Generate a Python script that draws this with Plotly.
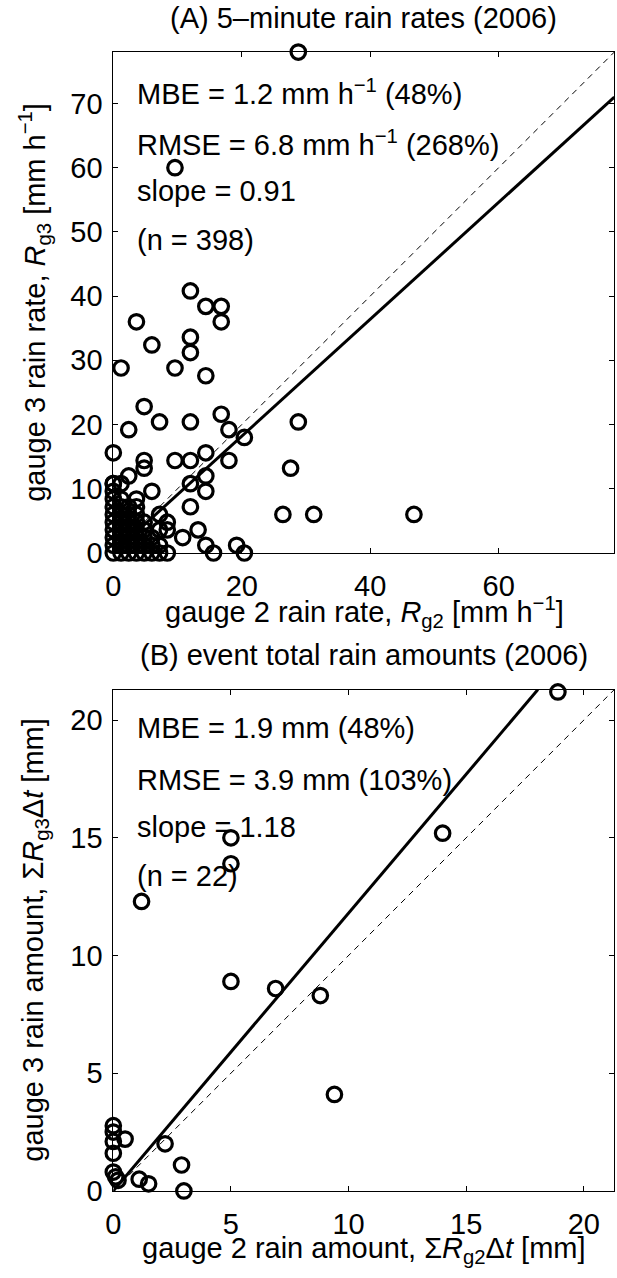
import plotly.graph_objects as go

# ---------------- data ----------------
# Panel A: 5-minute rain rates (mm/h), gauge 2 (x) vs gauge 3 (y)
a_x = [28.8, 9.6, 12.0, 14.4, 16.8, 16.8, 3.6, 12.0, 6.0, 12.0, 1.2, 9.6, 14.4,
       4.8, 2.4, 7.2, 12.0, 16.8, 18.0, 20.4, 28.8, 27.6, 26.4, 31.2, 46.8,
       0.0, 4.8, 4.8, 9.6, 12.0, 14.4, 18.0, 2.4, 14.4, 12.0, 14.4, 6.0,
       1.2, 3.6, 3.6, 12.0, 7.2, 8.4, 7.2, 8.4, 10.8, 13.2, 14.4, 15.6,
       19.2, 20.4,
       0.0, 1.2, 2.4, 3.6, 4.8, 6.0, 7.2, 8.4,
       0.0, 1.2, 2.4, 3.6, 4.8, 6.0, 7.2,
       0.0, 1.2, 2.4, 3.6, 4.8, 6.0,
       0.0, 1.2, 2.4, 3.6, 4.8,
       0.0, 1.2, 2.4, 3.6, 4.8,
       0.0, 1.2, 2.4, 3.6,
       0.0, 1.2, 2.4,
       0.0, 1.2,
       0.0, 0.0, 0.0]
a_y = [78.0, 60.0, 40.8, 38.4, 38.4, 36.0, 36.0, 33.6, 32.4, 31.2, 28.8, 28.8, 27.6,
       22.8, 19.2, 20.4, 20.4, 21.6, 19.2, 18.0, 20.4, 13.2, 6.0, 6.0, 6.0,
       15.6, 14.4, 13.2, 14.4, 14.4, 15.6, 14.4, 12.0, 12.0, 10.8, 9.6, 9.6,
       10.8, 8.4, 7.2, 7.2, 6.0, 4.8, 3.6, 3.6, 2.4, 3.6, 1.2, 0.0,
       1.2, 0.0,
       0.0, 0.0, 0.0, 0.0, 0.0, 0.0, 0.0, 0.0,
       1.2, 1.2, 1.2, 1.2, 1.2, 1.2, 1.2,
       2.4, 2.4, 2.4, 2.4, 2.4, 2.4,
       3.6, 3.6, 3.6, 3.6, 3.6,
       4.8, 4.8, 4.8, 4.8, 4.8,
       6.0, 6.0, 6.0, 6.0,
       7.2, 7.2, 7.2,
       8.4, 8.4,
       9.6, 10.8, 10.8]

# Panel B: event total rain amounts (mm)
b_x = [18.9, 14.0, 5.0, 5.0, 1.2, 5.0, 6.9, 8.8, 9.4, 2.2, 2.9, 3.0, 1.1, 1.5,
       0.5, 0.0, 0.0, 0.0, 0.0, 0.0, 0.1, 0.2]
b_y = [21.2, 15.2, 15.0, 13.9, 12.3, 8.9, 8.6, 8.3, 4.1, 2.0, 1.1, 0.0, 0.5, 0.3,
       2.2, 2.77, 2.5, 2.1, 1.6, 0.8, 0.6, 0.45]

a_range = [0, 78]
b_range = [0, 21.3]
a_slope = 0.91
b_slope = 1.18
a_ticks = [0, 20, 40, 60]
a_yticks = [0, 10, 20, 30, 40, 50, 60, 70]
b_ticks = [0, 5, 10, 15, 20]

a_title = "(A) 5–minute rain rates (2006)"
b_title = "(B) event total rain amounts (2006)"
a_xlabel = "gauge 2 rain rate, <i>R</i><sub>g2</sub> [mm h<sup>−1</sup>]"
a_ylabel = "gauge 3 rain rate, <i>R</i><sub>g3</sub> [mm h<sup>−1</sup>]"
b_xlabel = "gauge 2 rain amount, Σ<i>R</i><sub>g2</sub>Δ<i>t</i> [mm]"
b_ylabel = "gauge 3 rain amount, Σ<i>R</i><sub>g3</sub>Δ<i>t</i> [mm]"
a_stats = ["MBE = 1.2 mm h<sup>−1</sup> (48%)",
           "RMSE = 6.8 mm h<sup>−1</sup> (268%)",
           "slope = 0.91",
           "(n = 398)"]
b_stats = ["MBE = 1.9 mm (48%)",
           "RMSE = 3.9 mm (103%)",
           "slope = 1.18",
           "(n = 22)"]

# ---------------- layout helpers ----------------
W, H = 617, 1278
L, R = 106.7, 614.3
A_TOP, A_BOT = 52.7, 560.0
B_TOP, B_BOT = 698.3, 1206.0


def px(p):
    return p / W


def py(p):
    return 1 - p / H


FONT = dict(family="Liberation Sans, Arial, Helvetica, sans-serif", size=29, color="black")

marker = dict(symbol="circle-open", size=14.5, color="black", line=dict(width=3.2, color="black"))

fig = go.Figure()

# Panel A
fig.add_trace(go.Scatter(x=a_x, y=a_y, mode="markers", marker=marker, cliponaxis=False,
                         xaxis="x", yaxis="y", showlegend=False, hoverinfo="skip"))
fig.add_trace(go.Scatter(x=a_range, y=a_range, mode="lines",
                         line=dict(color="black", width=1, dash="6px,5px"),
                         xaxis="x", yaxis="y", showlegend=False, hoverinfo="skip"))
fig.add_trace(go.Scatter(x=a_range, y=[a_slope * v for v in a_range], mode="lines",
                         line=dict(color="black", width=3),
                         xaxis="x", yaxis="y", showlegend=False, hoverinfo="skip"))

# Panel B
fig.add_trace(go.Scatter(x=b_x, y=b_y, mode="markers", marker=marker, cliponaxis=False,
                         xaxis="x2", yaxis="y2", showlegend=False, hoverinfo="skip"))
fig.add_trace(go.Scatter(x=b_range, y=b_range, mode="lines",
                         line=dict(color="black", width=1, dash="6px,5px"),
                         xaxis="x2", yaxis="y2", showlegend=False, hoverinfo="skip"))
fig.add_trace(go.Scatter(x=[0, b_range[1] / b_slope], y=[0, b_range[1]], mode="lines",
                         line=dict(color="black", width=3),
                         xaxis="x2", yaxis="y2", showlegend=False, hoverinfo="skip"))

axis_common = dict(showline=True, linecolor="black", linewidth=1, mirror="ticks",
                   ticks="inside", ticklen=5, tickwidth=1, tickcolor="black",
                   showgrid=False, zeroline=False, tickfont=FONT, fixedrange=True)

fig.update_layout(
    width=W, height=H, autosize=False,
    margin=dict(l=0, r=0, t=0, b=0),
    paper_bgcolor="white", plot_bgcolor="white",
    font=FONT,
    xaxis=dict(axis_common, domain=[px(L), px(R)], range=a_range, tickvals=a_ticks,
               anchor="y", ticklabelstandoff=7),
    yaxis=dict(axis_common, domain=[py(A_BOT), py(A_TOP)], range=a_range, tickvals=a_yticks,
               anchor="x", ticklabelstandoff=4),
    xaxis2=dict(axis_common, domain=[px(L), px(R)], range=b_range, tickvals=b_ticks,
                anchor="y2", ticklabelstandoff=7),
    yaxis2=dict(axis_common, domain=[py(B_BOT), py(B_TOP)], range=b_range, tickvals=b_ticks,
                anchor="x2", ticklabelstandoff=4),
)

ann = []


def add_text(text, x, y, xanchor="center", angle=0):
    ann.append(dict(text=text, x=px(x), y=py(y), xref="paper", yref="paper",
                    xanchor=xanchor, yanchor="middle", showarrow=False, font=FONT,
                    textangle=angle, borderpad=0, borderwidth=0))


CX = (L + R) / 2
OFF = B_TOP - A_TOP
add_text(a_title, CX, 18)
add_text(b_title, CX, 18 + OFF)
add_text(a_xlabel, 361, 620)
add_text(b_xlabel, 361, 620 + OFF)
add_text(a_ylabel, 27, 306, angle=-90)
add_text(b_ylabel, 27, 952, angle=-90)

a_lines_y = [93, 145, 193, 243]
for t, yy in zip(a_stats, a_lines_y):
    add_text(t, 131, yy, xanchor="left")
for t, yy in zip(b_stats, a_lines_y):
    add_text(t, 131, yy + OFF - 1, xanchor="left")

fig.update_layout(annotations=ann)

fig.write_html("out.html")
